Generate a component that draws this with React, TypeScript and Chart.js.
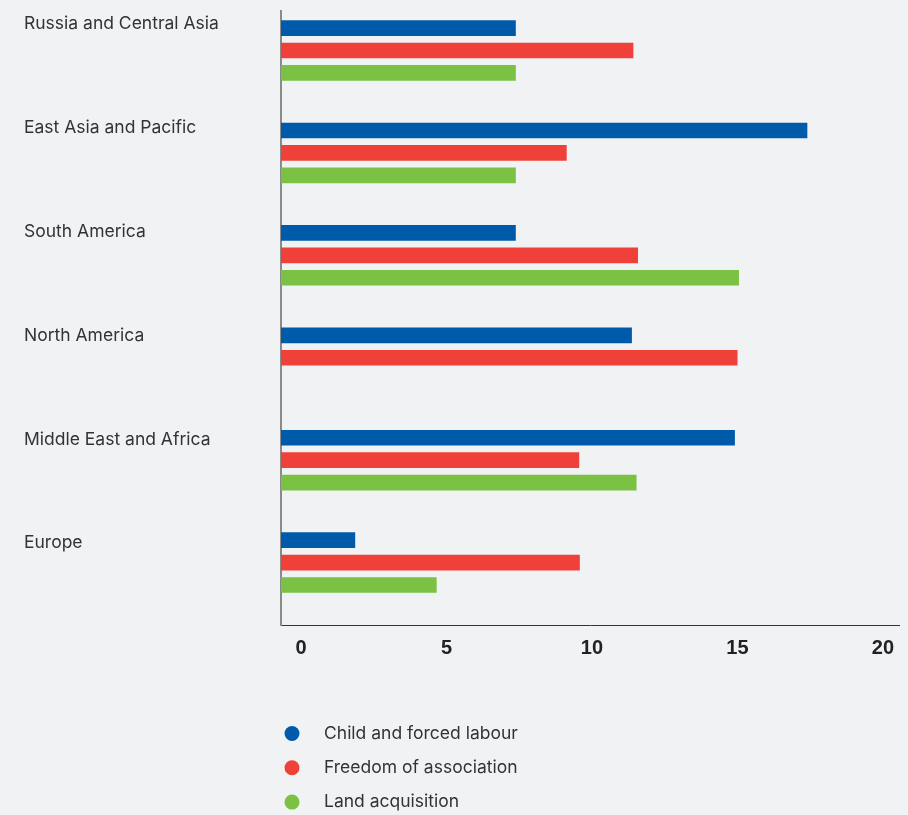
import React, { useEffect, useRef } from 'react';
import { Chart, registerables } from 'chart.js';

Chart.register(...registerables);

// ---- Data ----
const regions = [
  'Russia and Central Asia',
  'East Asia and Pacific',
  'South America',
  'North America',
  'Middle East and Africa',
  'Europe',
];
const childAndForcedLabour = [8.07, 18.09, 8.07, 12.06, 15.6, 2.55];
const freedomOfAssociation = [12.11, 9.82, 12.27, 15.69, 10.25, 10.27];
const landAcquisition: (number | null)[] = [8.07, 8.07, 15.74, null, 12.22, 5.35];
const seriesNames = ['Child and forced labour', 'Freedom of association', 'Land acquisition'];
const seriesColors = ['#005AAA', '#F0403A', '#7BC143'];
const xTickValues = [0, 5, 10, 15, 20];

const BG = '#F1F2F4';

const dotLegend = {
  id: 'dotLegend',
  afterDraw(chart: any, _args: any, opts: any) {
    const { ctx, chartArea } = chart;
    let row = 0;
    chart.data.datasets.forEach((ds: any) => {
      if (!ds.label) return;
      const cx = chartArea.left + opts.offsetX;
      const cy = chartArea.bottom + opts.offsetY + row * opts.rowGap;
      ctx.save();
      ctx.fillStyle = ds.backgroundColor;
      ctx.beginPath();
      ctx.arc(cx, cy, opts.radius, 0, Math.PI * 2);
      ctx.fill();
      ctx.fillStyle = opts.color;
      ctx.font = opts.font;
      ctx.textBaseline = 'middle';
      ctx.textAlign = 'left';
      ctx.fillText(ds.label, cx + opts.textGap, cy);
      ctx.restore();
      row++;
    });
  },
};

export default function App() {
  const ref = useRef<HTMLCanvasElement | null>(null);

  useEffect(() => {
    document.body.style.margin = '0';
    document.body.style.background = BG;
    const canvas = ref.current!;
    const chart = new Chart(canvas, {
      type: 'bar',
      data: {
        labels: regions,
        datasets: [
          { label: seriesNames[0], data: childAndForcedLabour, backgroundColor: seriesColors[0] },
          { label: seriesNames[1], data: freedomOfAssociation, backgroundColor: seriesColors[1] },
          { label: seriesNames[2], data: landAcquisition, backgroundColor: seriesColors[2] },
          { label: '', data: [], backgroundColor: 'rgba(0,0,0,0)' },
        ],
      },
      options: {
        indexAxis: 'y',
        responsive: false,
        animation: false,
        devicePixelRatio: 1,
        categoryPercentage: 0.876,
        barPercentage: 0.7,
        layout: { padding: { left: 24, top: 9, right: 9, bottom: 0 } },
        plugins: {
          legend: { display: false },
          tooltip: { enabled: false },
          dotLegend: {
            offsetX: 11,
            offsetY: 108.5,
            rowGap: 34.3,
            radius: 7.5,
            textGap: 32,
            color: '#333333',
            font: '17.5px Inter',
          },
        } as any,
        scales: {
          x: {
            type: 'linear',
            min: 0,
            max: 21.24,
            grid: { display: false, drawTicks: false },
            border: { display: true, color: '#333333', width: 1 },
            ticks: {
              autoSkip: false,
              maxRotation: 0,
              padding: 11,
              labelOffset: 20,
              color: '#222222',
              font: { family: 'Liberation Sans', size: 20, weight: 'bold' },
            },
            afterBuildTicks: (scale: any) => {
              scale.ticks = xTickValues.map((v) => ({ value: v }));
            },
            afterFit: (scale: any) => {
              scale.height = 190;
            },
          },
          y: {
            type: 'category',
            position: 'left',
            grid: { display: false, drawTicks: false },
            border: { display: true, color: '#8A8A8A', width: 2 },
            ticks: { display: false },
            afterFit: (scale: any) => {
              scale.width = 0;
            },
          },
          yLabels: {
            type: 'linear',
            position: 'left',
            reverse: true,
            offset: false,
            bounds: 'data',
            min: -0.1275,
            max: 5.788,
            grid: { display: false, drawTicks: false, offset: false },
            border: { display: false },
            ticks: {
              crossAlign: 'far',
              padding: 0,
              color: '#333333',
              font: { family: 'Inter', size: 17.5 },
              callback: (v: any) => regions[v as number] ?? '',
            },
            afterBuildTicks: (scale: any) => {
              scale.ticks = regions.map((_, i) => ({ value: i }));
            },
            afterFit: (scale: any) => {
              scale.width = 257;
            },
          },
        },
      } as any,
      plugins: [dotLegend],
    });
    return () => chart.destroy();
  }, []);

  return (
    <canvas
      ref={ref}
      width={908}
      height={815}
      style={{ display: 'block', width: 908, height: 815, background: BG }}
    />
  );
}
